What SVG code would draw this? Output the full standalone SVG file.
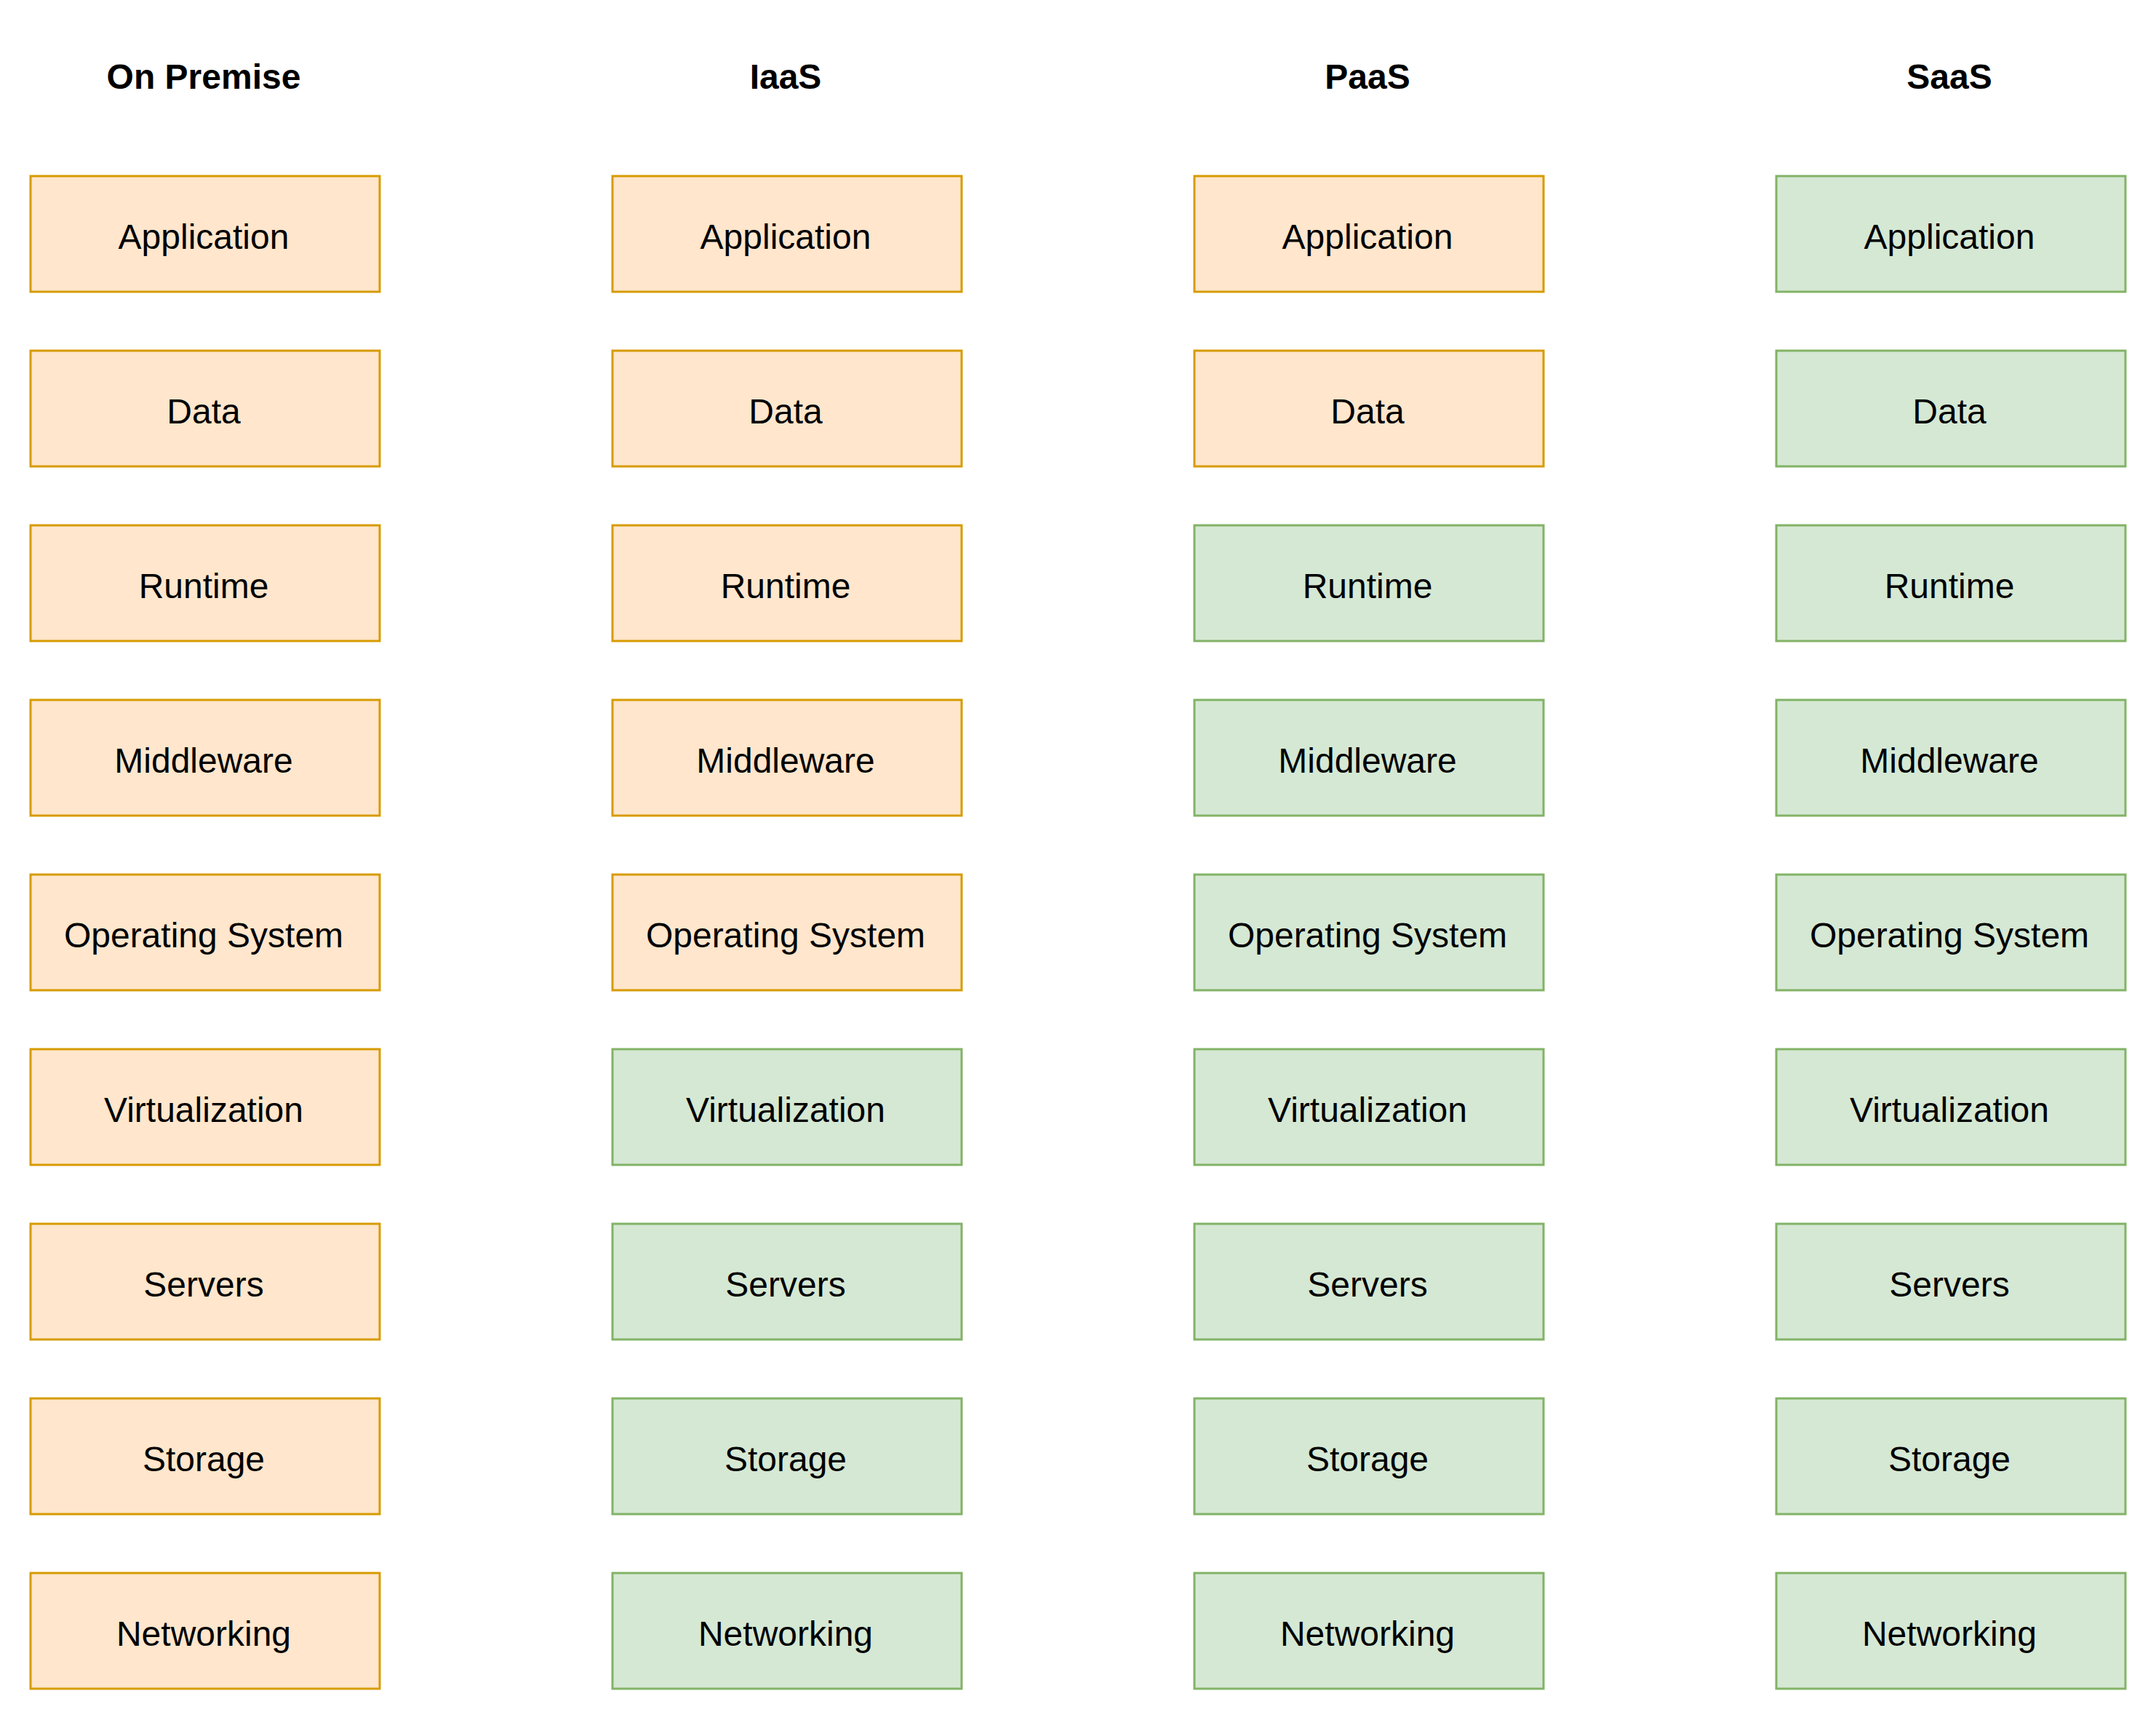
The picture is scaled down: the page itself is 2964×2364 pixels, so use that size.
<svg xmlns="http://www.w3.org/2000/svg" width="2964" height="2364" viewBox="0 0 2964 2364">
<style>
.t{font-family:"Liberation Sans",Arial,sans-serif;font-size:48px;fill:#000;text-anchor:middle}
.h{font-weight:bold}
.o{fill:#ffe6cc;stroke:#d79b00;stroke-width:3}
.g{fill:#d5e8d4;stroke:#82b366;stroke-width:3}
</style>
<rect width="2964" height="2364" fill="#fff"/>
<g id="headers">
<text class="t h" x="280" y="122">On Premise</text>
<text class="t h" x="1080" y="122">IaaS</text>
<text class="t h" x="1880" y="122">PaaS</text>
<text class="t h" x="2680" y="122">SaaS</text>
</g>
<g id="col-onpremise">
<g id="op-app"><rect class="o" x="42" y="242" width="480" height="159"/><text class="t" x="280" y="342">Application</text></g>
<g id="op-data"><rect class="o" x="42" y="482" width="480" height="159"/><text class="t" x="280" y="582">Data</text></g>
<g id="op-runtime"><rect class="o" x="42" y="722" width="480" height="159"/><text class="t" x="280" y="822">Runtime</text></g>
<g id="op-middleware"><rect class="o" x="42" y="962" width="480" height="159"/><text class="t" x="280" y="1062">Middleware</text></g>
<g id="op-os"><rect class="o" x="42" y="1202" width="480" height="159"/><text class="t" x="280" y="1302">Operating System</text></g>
<g id="op-virt"><rect class="o" x="42" y="1442" width="480" height="159"/><text class="t" x="280" y="1542">Virtualization</text></g>
<g id="op-servers"><rect class="o" x="42" y="1682" width="480" height="159"/><text class="t" x="280" y="1782">Servers</text></g>
<g id="op-storage"><rect class="o" x="42" y="1922" width="480" height="159"/><text class="t" x="280" y="2022">Storage</text></g>
<g id="op-net"><rect class="o" x="42" y="2162" width="480" height="159"/><text class="t" x="280" y="2262">Networking</text></g>
</g>
<g id="col-iaas">
<g id="iaas-app"><rect class="o" x="842" y="242" width="480" height="159"/><text class="t" x="1080" y="342">Application</text></g>
<g id="iaas-data"><rect class="o" x="842" y="482" width="480" height="159"/><text class="t" x="1080" y="582">Data</text></g>
<g id="iaas-runtime"><rect class="o" x="842" y="722" width="480" height="159"/><text class="t" x="1080" y="822">Runtime</text></g>
<g id="iaas-middleware"><rect class="o" x="842" y="962" width="480" height="159"/><text class="t" x="1080" y="1062">Middleware</text></g>
<g id="iaas-os"><rect class="o" x="842" y="1202" width="480" height="159"/><text class="t" x="1080" y="1302">Operating System</text></g>
<g id="iaas-virt"><rect class="g" x="842" y="1442" width="480" height="159"/><text class="t" x="1080" y="1542">Virtualization</text></g>
<g id="iaas-servers"><rect class="g" x="842" y="1682" width="480" height="159"/><text class="t" x="1080" y="1782">Servers</text></g>
<g id="iaas-storage"><rect class="g" x="842" y="1922" width="480" height="159"/><text class="t" x="1080" y="2022">Storage</text></g>
<g id="iaas-net"><rect class="g" x="842" y="2162" width="480" height="159"/><text class="t" x="1080" y="2262">Networking</text></g>
</g>
<g id="col-paas">
<g id="paas-app"><rect class="o" x="1642" y="242" width="480" height="159"/><text class="t" x="1880" y="342">Application</text></g>
<g id="paas-data"><rect class="o" x="1642" y="482" width="480" height="159"/><text class="t" x="1880" y="582">Data</text></g>
<g id="paas-runtime"><rect class="g" x="1642" y="722" width="480" height="159"/><text class="t" x="1880" y="822">Runtime</text></g>
<g id="paas-middleware"><rect class="g" x="1642" y="962" width="480" height="159"/><text class="t" x="1880" y="1062">Middleware</text></g>
<g id="paas-os"><rect class="g" x="1642" y="1202" width="480" height="159"/><text class="t" x="1880" y="1302">Operating System</text></g>
<g id="paas-virt"><rect class="g" x="1642" y="1442" width="480" height="159"/><text class="t" x="1880" y="1542">Virtualization</text></g>
<g id="paas-servers"><rect class="g" x="1642" y="1682" width="480" height="159"/><text class="t" x="1880" y="1782">Servers</text></g>
<g id="paas-storage"><rect class="g" x="1642" y="1922" width="480" height="159"/><text class="t" x="1880" y="2022">Storage</text></g>
<g id="paas-net"><rect class="g" x="1642" y="2162" width="480" height="159"/><text class="t" x="1880" y="2262">Networking</text></g>
</g>
<g id="col-saas">
<g id="saas-app"><rect class="g" x="2442" y="242" width="480" height="159"/><text class="t" x="2680" y="342">Application</text></g>
<g id="saas-data"><rect class="g" x="2442" y="482" width="480" height="159"/><text class="t" x="2680" y="582">Data</text></g>
<g id="saas-runtime"><rect class="g" x="2442" y="722" width="480" height="159"/><text class="t" x="2680" y="822">Runtime</text></g>
<g id="saas-middleware"><rect class="g" x="2442" y="962" width="480" height="159"/><text class="t" x="2680" y="1062">Middleware</text></g>
<g id="saas-os"><rect class="g" x="2442" y="1202" width="480" height="159"/><text class="t" x="2680" y="1302">Operating System</text></g>
<g id="saas-virt"><rect class="g" x="2442" y="1442" width="480" height="159"/><text class="t" x="2680" y="1542">Virtualization</text></g>
<g id="saas-servers"><rect class="g" x="2442" y="1682" width="480" height="159"/><text class="t" x="2680" y="1782">Servers</text></g>
<g id="saas-storage"><rect class="g" x="2442" y="1922" width="480" height="159"/><text class="t" x="2680" y="2022">Storage</text></g>
<g id="saas-net"><rect class="g" x="2442" y="2162" width="480" height="159"/><text class="t" x="2680" y="2262">Networking</text></g>
</g>
<g id="connectors"/>
</svg>
